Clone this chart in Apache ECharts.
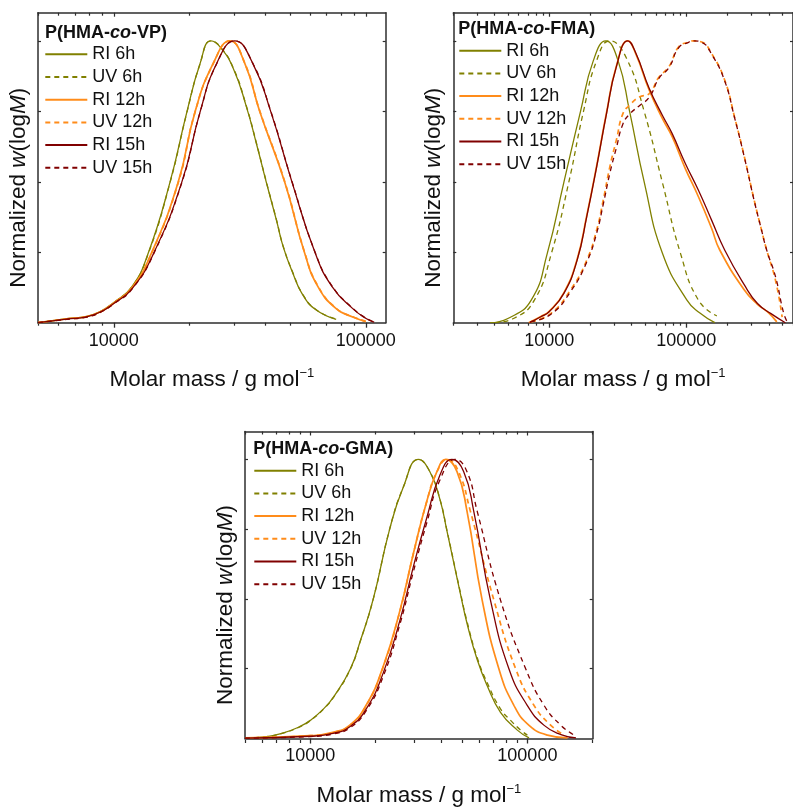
<!DOCTYPE html>
<html>
<head>
<meta charset="utf-8">
<title>Molar mass distributions</title>
<script src="https://cdn.jsdelivr.net/npm/echarts@6/dist/echarts.min.js"></script>
<style>
  html, body { margin: 0; padding: 0; background: #ffffff; }
  #chart { width: 793px; height: 808px; }
</style>
</head>
<body>
<div id="chart"></div>
<script>
// ---- Molar mass (g/mol) and normalized w(logM) for each detector trace ----

// P(HMA-co-VP)
const vpRI6M  = [5000, 6500, 7800, 8800, 10000, 11800, 13700, 16700, 19500, 22000, 24300, 26400, 29800, 33600, 36800, 40300, 44200, 47000, 51400, 56300, 63600, 76300];
const vpRI6W  = [0.000, 0.014, 0.022, 0.039, 0.072, 0.128, 0.247, 0.498, 0.748, 0.920, 1.000, 0.979, 0.902, 0.766, 0.636, 0.498, 0.364, 0.270, 0.175, 0.098, 0.045, 0.012];
const vpUV6M  = [5000, 6500, 7800, 8800, 10000, 11800, 13700, 16700, 19500, 22000, 24300, 26400, 29800, 33600, 36800, 40300, 44200, 47000, 51400, 56300, 63600, 76300];
const vpUV6W  = [0.000, 0.013, 0.021, 0.038, 0.071, 0.127, 0.245, 0.496, 0.746, 0.919, 1.000, 0.980, 0.904, 0.768, 0.638, 0.500, 0.366, 0.272, 0.177, 0.100, 0.046, 0.013];
const vpRI12M = [5000, 6500, 7800, 8800, 10000, 11800, 14100, 18000, 21000, 24800, 28900, 33100, 38000, 47700, 57200, 64600, 76300, 88800, 100000];
const vpRI12W = [0.000, 0.014, 0.022, 0.038, 0.070, 0.124, 0.247, 0.498, 0.748, 0.920, 1.000, 0.920, 0.748, 0.498, 0.247, 0.128, 0.050, 0.020, 0.004];
const vpUV12M = [5000, 6500, 7800, 8800, 10000, 11800, 14100, 18000, 21000, 24800, 28900, 33100, 38000, 47700, 57200, 64600, 76300, 88800, 100000];
const vpUV12W = [0.000, 0.013, 0.021, 0.037, 0.069, 0.123, 0.245, 0.496, 0.747, 0.919, 1.000, 0.921, 0.750, 0.500, 0.249, 0.130, 0.051, 0.021, 0.005];
const vpRI15M = [5000, 6500, 7800, 8800, 10000, 11800, 14400, 18600, 22000, 25600, 30200, 35600, 42000, 51000, 63000, 73500, 88800, 100300, 108000];
const vpRI15W = [0.000, 0.013, 0.021, 0.037, 0.068, 0.120, 0.247, 0.498, 0.748, 0.920, 1.000, 0.920, 0.748, 0.498, 0.247, 0.128, 0.050, 0.015, 0.002];
const vpUV15M = [5000, 6500, 7800, 8800, 10000, 11800, 14400, 18600, 22000, 25600, 30200, 35600, 42000, 51000, 63000, 73500, 88800, 100300, 108000];
const vpUV15W = [0.000, 0.012, 0.020, 0.036, 0.067, 0.119, 0.245, 0.496, 0.747, 0.919, 1.000, 0.921, 0.750, 0.500, 0.249, 0.130, 0.051, 0.016, 0.002];

// P(HMA-co-FMA)
const fmaRI6M  = [3700, 5000, 7400, 9700, 12800, 16900, 21000, 25900, 31800, 38600, 49400, 66900, 101100, 125000, 161500];
const fmaRI6W  = [0.000, 0.015, 0.080, 0.247, 0.498, 0.748, 0.930, 1.000, 0.930, 0.750, 0.498, 0.247, 0.080, 0.035, 0.000];
const fmaUV6M  = [4000, 5500, 7800, 10400, 13900, 17800, 22200, 27700, 36500, 49400, 66900, 90600, 122600, 166900];
const fmaUV6W  = [0.000, 0.015, 0.080, 0.247, 0.498, 0.750, 0.930, 1.000, 0.940, 0.748, 0.498, 0.247, 0.080, 0.024];
const fmaRI12M = [7100, 8700, 10000, 12800, 16000, 18800, 22200, 26200, 30900, 37500, 43000, 53700, 66900, 78900, 98400, 122600, 152900, 175400, 265100, 330500, 389900, 457000];
const fmaRI12W = [0.000, 0.022, 0.040, 0.106, 0.225, 0.380, 0.556, 0.745, 0.910, 1.000, 0.952, 0.825, 0.725, 0.660, 0.547, 0.447, 0.335, 0.258, 0.116, 0.065, 0.039, 0.003];
const fmaUV12M = [7400, 10300, 14300, 18800, 22200, 24800, 27700, 30900, 34500, 38600, 45500, 53700, 63300, 74700, 88100, 103900, 112900, 129600, 152900, 190500, 224800, 265100, 312700, 349100, 385600, 447500, 500000];
const fmaUV12W = [0.004, 0.033, 0.116, 0.222, 0.329, 0.435, 0.553, 0.648, 0.742, 0.772, 0.801, 0.813, 0.872, 0.908, 0.979, 0.996, 1.000, 0.996, 0.955, 0.861, 0.730, 0.589, 0.435, 0.340, 0.258, 0.150, 0.020];
const fmaRI15M = [7200, 8700, 10000, 12800, 16000, 18800, 22200, 26200, 30900, 37500, 43000, 53700, 66900, 78900, 98400, 122600, 152900, 190500, 265100, 330500, 411900, 527900];
const fmaRI15W = [0.000, 0.021, 0.039, 0.104, 0.222, 0.376, 0.553, 0.742, 0.908, 1.000, 0.955, 0.831, 0.736, 0.671, 0.565, 0.470, 0.364, 0.258, 0.134, 0.068, 0.033, 0.000];
const fmaUV15M = [7300, 10300, 14300, 18800, 22200, 24800, 27700, 30900, 34500, 38600, 45500, 53700, 63300, 74700, 88100, 103900, 112900, 129600, 152900, 190500, 224800, 265100, 312700, 349100, 385600, 447500, 513500, 548600];
const fmaUV15W = [0.004, 0.030, 0.110, 0.215, 0.318, 0.420, 0.530, 0.620, 0.705, 0.740, 0.770, 0.800, 0.868, 0.905, 0.976, 0.995, 1.000, 0.995, 0.953, 0.858, 0.728, 0.587, 0.433, 0.340, 0.258, 0.163, 0.033, 0.000];

// P(HMA-co-GMA)
const gmaRI6M  = [5000, 6200, 7400, 8900, 10000, 11500, 12900, 15300, 17000, 19500, 23200, 26800, 31500, 35600, 39600, 42600, 49100, 52700, 58700, 65300, 75200, 89900, 101800];
const gmaRI6W  = [0.002, 0.006, 0.018, 0.042, 0.065, 0.106, 0.153, 0.250, 0.350, 0.500, 0.750, 0.900, 1.000, 0.955, 0.855, 0.744, 0.520, 0.413, 0.283, 0.189, 0.094, 0.030, 0.002];
const gmaUV6M  = [5000, 6200, 7400, 8900, 10000, 11500, 12900, 15300, 17000, 19500, 23200, 26800, 31500, 35600, 39600, 42600, 49100, 52700, 58700, 65300, 75200, 83700, 93100, 100000];
const gmaUV6W  = [0.002, 0.006, 0.018, 0.041, 0.064, 0.105, 0.152, 0.249, 0.349, 0.500, 0.750, 0.900, 1.000, 0.955, 0.856, 0.746, 0.524, 0.420, 0.290, 0.200, 0.106, 0.065, 0.030, 0.012];
const gmaRI12M = [5000, 10000, 12700, 15200, 18100, 21700, 25900, 29800, 34400, 38300, 42100, 47400, 52700, 61900, 73900, 86800, 101800, 123800, 153200];
const gmaRI12W = [0.002, 0.010, 0.022, 0.048, 0.120, 0.260, 0.460, 0.661, 0.850, 0.956, 1.000, 0.956, 0.815, 0.496, 0.250, 0.118, 0.047, 0.012, 0.002];
const gmaUV12M = [5000, 10000, 12700, 15200, 18100, 21700, 25900, 29800, 34400, 38300, 42900, 48200, 54600, 70100, 88300, 107400, 128300, 147900];
const gmaUV12W = [0.002, 0.010, 0.021, 0.047, 0.118, 0.258, 0.458, 0.660, 0.849, 0.955, 1.000, 0.956, 0.815, 0.496, 0.250, 0.118, 0.047, 0.012];
const gmaRI15M = [5000, 10000, 12700, 15200, 18100, 21700, 25900, 29800, 34400, 39600, 44900, 50900, 56600, 67600, 82200, 100000, 119500, 142800, 167500];
const gmaRI15W = [0.001, 0.008, 0.018, 0.042, 0.106, 0.236, 0.425, 0.614, 0.791, 0.945, 1.000, 0.956, 0.815, 0.496, 0.250, 0.118, 0.047, 0.014, 0.002];
const gmaUV15M = [5000, 10000, 12700, 15200, 18100, 21700, 25900, 29800, 34400, 39600, 46500, 52700, 58700, 75200, 98200, 119500, 142800, 164500];
const gmaUV15W = [0.001, 0.007, 0.016, 0.038, 0.100, 0.224, 0.411, 0.596, 0.773, 0.927, 1.000, 0.956, 0.815, 0.496, 0.250, 0.118, 0.047, 0.012];

// Legend entries (same order in every panel)
const traceNames = ['RI 6h', 'UV 6h', 'RI 12h', 'UV 12h', 'RI 15h', 'UV 15h'];

// Panel headings: plain / italic / plain
const panelTitles = [
  ['P(HMA-', 'co', '-VP)'],
  ['P(HMA-', 'co', '-FMA)'],
  ['P(HMA-', 'co', '-GMA)']
];

// Molar-mass window of each panel
const massRanges = [[5000, 120000], [2000, 600000], [5000, 200000]];

// Decade labels and tick marks on the molar-mass axis
const decadeTicks = [1000, 10000, 100000, 1000000];
const subDecadeSteps = [2, 3, 4, 5, 6, 7, 8, 9];

// Ticks on the intensity axis
const intensityTicks = [0.25, 0.5, 0.75, 1.0];

const panelCurves = [
  [[vpRI6M, vpRI6W], [vpUV6M, vpUV6W], [vpRI12M, vpRI12W], [vpUV12M, vpUV12W], [vpRI15M, vpRI15W], [vpUV15M, vpUV15W]],
  [[fmaRI6M, fmaRI6W], [fmaUV6M, fmaUV6W], [fmaRI12M, fmaRI12W], [fmaUV12M, fmaUV12W], [fmaRI15M, fmaRI15W], [fmaUV15M, fmaUV15W]],
  [[gmaRI6M, gmaRI6W], [gmaUV6M, gmaUV6W], [gmaRI12M, gmaRI12W], [gmaUV12M, gmaUV12W], [gmaRI15M, gmaRI15W], [gmaUV15M, gmaUV15W]]
];

// ---- layout & style ----
const FONT = '"Liberation Sans", Arial, Helvetica, sans-serif';
const INK = '#111111';
const FRAME = '#2e2e2e';
const TRACE_COLORS = { '6h': '#808000', '12h': '#ff8c1a', '15h': '#800000' };
const TRACE_WIDTHS = { '6h': 1.3, '12h': 1.7, '15h': 1.3 };

const layout = [
  { grid: { left: 38,    top: 12.7,  width: 347.7, height: 310 },   yMax: 1.1, legend: { left: 44.3,  top: 45.3 },  title: { left: 45,    top: 23.7 } },
  { grid: { left: 453.3, top: 12.7,  width: 347.7, height: 310 },   yMax: 1.1, legend: { left: 458.3, top: 41.7 },  title: { left: 458.3, top: 20.3 } },
  { grid: { left: 245,   top: 431.5, width: 347.7, height: 308.5 }, yMax: 1.1, legend: { left: 253.3, top: 461.7 }, title: { left: 253.3, top: 440.3 } }
];

const lg = Math.log10;
const majorPos = decadeTicks.map(lg);
const minorPos = [];
decadeTicks.forEach(d => subDecadeSteps.forEach(k => minorPos.push(lg(d * k))));

const grids = [], xAxes = [], yAxes = [], series = [], legends = [], titles = [];

const xNameStyle = {
  color: INK, fontFamily: FONT,
  rich: {
    t: { fontSize: 22.5, fontFamily: FONT, color: INK, lineHeight: 26 },
    s: { fontSize: 13, fontFamily: FONT, color: INK, verticalAlign: 'top', lineHeight: 13 }
  }
};
const yNameStyle = {
  color: INK, fontFamily: FONT,
  padding: [0, 40, 0, 0],
  rich: {
    t: { fontSize: 22.5, fontFamily: FONT, color: INK },
    i: { fontSize: 22.5, fontFamily: FONT, color: INK, fontStyle: 'italic' }
  }
};

const nP = layout.length;
layout.forEach((L, i) => {
  const [lo, hi] = massRanges[i];
  const xmin = lg(lo), xmax = lg(hi);

  grids.push(Object.assign({ containLabel: false }, L.grid));

  // bottom axis: decade ticks + labels + title
  xAxes[i] = {
    gridIndex: i, type: 'value', position: 'bottom', min: xmin, max: xmax,
    axisLine: { show: true, onZero: false, lineStyle: { color: FRAME, width: 1.5 } },
    axisTick: { show: true, inside: false, length: 5, customValues: majorPos, lineStyle: { color: FRAME, width: 1.3 } },
    axisLabel: {
      show: true, customValues: majorPos, margin: 9,
      fontSize: 18, fontFamily: FONT, color: INK,
      formatter: v => String(Math.round(Math.pow(10, v)))
    },
    splitLine: { show: false },
    name: '{t|Molar mass / g mol}{s|\u22121}',
    nameLocation: 'middle', nameGap: 44,
    nameTextStyle: xNameStyle
  };
  // top axis: frame with inward decade ticks
  xAxes[nP + i] = {
    gridIndex: i, type: 'value', position: 'top', min: xmin, max: xmax,
    axisLine: { show: true, onZero: false, lineStyle: { color: FRAME, width: 1.5 } },
    axisTick: { show: true, inside: true, length: 4, customValues: majorPos, lineStyle: { color: FRAME, width: 1.2 } },
    axisLabel: { show: false },
    splitLine: { show: false }
  };

  yAxes[i] = {
    gridIndex: i, type: 'value', position: 'left', min: 0, max: L.yMax,
    axisLine: { show: true, onZero: false, lineStyle: { color: FRAME, width: 1.5 } },
    axisTick: { show: true, inside: true, length: 3, customValues: intensityTicks, lineStyle: { color: FRAME, width: 1.2 } },
    axisLabel: { show: false },
    splitLine: { show: false },
    name: '{t|Normalized }{i|w}{t|(log}{i|M}{t|)}',
    nameLocation: 'middle', nameGap: 8,
    nameTextStyle: yNameStyle
  };
  yAxes[nP + i] = {
    gridIndex: i, type: 'value', position: 'right', min: 0, max: L.yMax,
    axisLine: { show: true, onZero: false, lineStyle: { color: FRAME, width: 1.5 } },
    axisTick: { show: true, inside: true, length: 3, customValues: intensityTicks, lineStyle: { color: FRAME, width: 1.2 } },
    axisLabel: { show: false },
    splitLine: { show: false }
  };

  // traces
  panelCurves[i].forEach(([mass, w], k) => {
    const name = traceNames[k];
    const [detector, time] = name.split(' ');
    series.push({
      type: 'line', name,
      xAxisIndex: i, yAxisIndex: i,
      symbol: 'none', showSymbol: false,
      smooth: 0.5,
      clip: true,
      silent: true,
      animation: false,
      data: mass.map((m, j) => [lg(m), w[j]]),
      lineStyle: {
        color: TRACE_COLORS[time], width: TRACE_WIDTHS[time],
        type: detector === 'UV' ? [5, 4] : 'solid'
      },
      itemStyle: { color: TRACE_COLORS[time], opacity: 0 },
      emphasis: { disabled: true }
    });
  });

  legends.push({
    data: traceNames, orient: 'vertical',
    left: L.legend.left, top: L.legend.top, padding: 0,
    itemWidth: 42, itemHeight: 18, itemGap: 4.7,
    selectedMode: false,
    itemStyle: { opacity: 0 },
    textStyle: { fontSize: 18, fontFamily: FONT, color: INK, lineHeight: 18 }
  });

  const [a, b, c] = panelTitles[i];
  titles.push({
    text: '{b|' + a + '}{bi|' + b + '}{b|' + c + '}',
    left: L.title.left, top: L.title.top, padding: 0,
    textStyle: {
      rich: {
        b:  { fontSize: 18, fontWeight: 'bold', fontFamily: FONT, color: INK, lineHeight: 18 },
        bi: { fontSize: 18, fontWeight: 'bold', fontStyle: 'italic', fontFamily: FONT, color: INK, lineHeight: 18 }
      }
    }
  });
});

// overlay grids: sub-decade ticks (outward at bottom, inward at top)
layout.forEach((L, i) => {
  const [lo, hi] = massRanges[i];
  const gi = nP + i;
  grids.push(Object.assign({ containLabel: false }, L.grid));
  xAxes[2 * nP + i] = {
    gridIndex: gi, type: 'value', position: 'bottom', min: lg(lo), max: lg(hi),
    axisLine: { show: false, onZero: false },
    axisTick: { show: true, inside: false, length: 3, customValues: minorPos, lineStyle: { color: FRAME, width: 1.2 } },
    axisLabel: { show: false }, splitLine: { show: false }
  };
  xAxes[3 * nP + i] = {
    gridIndex: gi, type: 'value', position: 'top', min: lg(lo), max: lg(hi),
    axisLine: { show: false, onZero: false },
    axisTick: { show: true, inside: true, length: 3, customValues: minorPos, lineStyle: { color: FRAME, width: 1.2 } },
    axisLabel: { show: false }, splitLine: { show: false }
  };
  yAxes[2 * nP + i] = { gridIndex: gi, type: 'value', show: false, min: 0, max: 1 };
});

const chart = echarts.init(document.getElementById('chart'), null, { renderer: 'canvas' });
chart.setOption({
  backgroundColor: '#ffffff',
  animation: false,
  textStyle: { fontFamily: FONT },
  title: titles,
  legend: legends,
  grid: grids,
  xAxis: xAxes,
  yAxis: yAxes,
  series: series
});
</script>
</body>
</html>
